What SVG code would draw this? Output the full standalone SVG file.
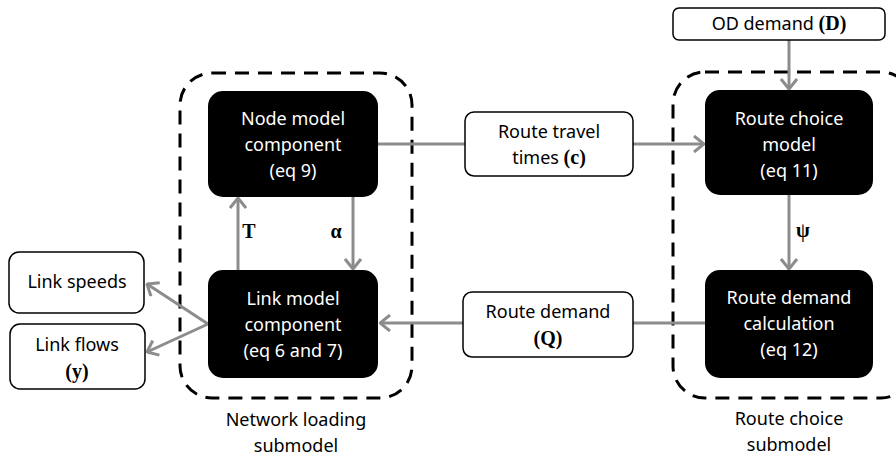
<svg xmlns="http://www.w3.org/2000/svg" width="896" height="458" viewBox="0 0 896 458">
<style>
.blk{fill:#000;stroke:none}
.wht{fill:#fff;stroke:#000;stroke-width:1.5}
.dash{fill:none;stroke:#000;stroke-width:3;stroke-dasharray:14 9}
.con{fill:none;stroke:#8c8c8c;stroke-width:3}
text{font-family:"Noto Sans","DejaVu Sans",sans-serif;font-size:18px;text-anchor:middle}
.w{fill:#fff}
.k{fill:#000}
.m{font-family:"Liberation Serif",serif;font-weight:bold;font-size:20px}
</style>
<defs>
<marker id="arr" viewBox="0 0 12 18" refX="11" refY="9" markerWidth="12" markerHeight="18" markerUnits="userSpaceOnUse" orient="auto">
<path d="M1,1 L11,9 L1,17" fill="none" stroke="#8c8c8c" stroke-width="3"/>
</marker>
</defs>

<g id="network-loading-submodel">
<rect class="dash" x="180" y="73" width="232" height="325" rx="32"/>
<text class="k" x="296" y="426">Network loading</text>
<text class="k" x="296" y="452">submodel</text>
</g>
<g id="route-choice-submodel">
<rect class="dash" x="673" y="72" width="240" height="326" rx="32"/>
<text class="k" x="789" y="425">Route choice</text>
<text class="k" x="789" y="451">submodel</text>
</g>

<g id="connectors">
<line class="con" x1="378" y1="144" x2="465" y2="144"/>
<line class="con" x1="633" y1="144" x2="704" y2="144" marker-end="url(#arr)"/>
<line class="con" x1="705" y1="323" x2="633" y2="323"/>
<line class="con" x1="463" y1="323" x2="380" y2="323" marker-end="url(#arr)"/>
<line class="con" x1="238" y1="270" x2="238" y2="198" marker-end="url(#arr)"/>
<line class="con" x1="353" y1="197" x2="353" y2="269" marker-end="url(#arr)"/>
<line class="con" x1="789" y1="40" x2="789" y2="89" marker-end="url(#arr)"/>
<line class="con" x1="789" y1="195" x2="789" y2="269" marker-end="url(#arr)"/>
<line class="con" x1="208" y1="324" x2="147" y2="284" marker-end="url(#arr)"/>
<line class="con" x1="208" y1="324" x2="147" y2="352" marker-end="url(#arr)"/>
<text class="m k" x="249" y="238">T</text>
<text class="m k" x="336" y="238">α</text>
<text class="m k" x="803" y="237">ψ</text>
</g>

<g id="node-model">
<rect class="blk" x="208" y="91" width="170" height="106" rx="15"/>
<text class="w" x="293" y="125">Node model</text>
<text class="w" x="293" y="151">component</text>
<text class="w" x="293" y="177">(eq 9)</text>
</g>
<g id="link-model">
<rect class="blk" x="208" y="270" width="170" height="108" rx="15"/>
<text class="w" x="293" y="305">Link model</text>
<text class="w" x="293" y="331">component</text>
<text class="w" x="293" y="357">(eq 6 and 7)</text>
</g>
<g id="route-choice-model">
<rect class="blk" x="705" y="90" width="168" height="105" rx="15"/>
<text class="w" x="789" y="125">Route choice</text>
<text class="w" x="789" y="151">model</text>
<text class="w" x="789" y="177">(eq 11)</text>
</g>
<g id="route-demand-calculation">
<rect class="blk" x="705" y="270" width="168" height="108" rx="15"/>
<text class="w" x="789" y="304">Route demand</text>
<text class="w" x="789" y="330">calculation</text>
<text class="w" x="789" y="356">(eq 12)</text>
</g>
<g id="route-travel-times">
<rect class="wht" x="465" y="112" width="168" height="64" rx="9"/>
<text class="k" x="549" y="138">Route travel</text>
<text class="k" x="549" y="164">times <tspan class="m">(c)</tspan></text>
</g>
<g id="route-demand">
<rect class="wht" x="463" y="292" width="170" height="65" rx="9"/>
<text class="k" x="548" y="318">Route demand</text>
<text class="k m" x="548" y="345">(Q)</text>
</g>
<g id="od-demand">
<rect class="wht" x="673" y="8" width="212" height="32" rx="6"/>
<text class="k" x="779" y="30">OD demand <tspan class="m">(D)</tspan></text>
</g>
<g id="link-speeds">
<rect class="wht" x="9" y="252" width="135" height="61" rx="10"/>
<text class="k" x="77" y="288">Link speeds</text>
</g>
<g id="link-flows">
<rect class="wht" x="10" y="324" width="135" height="65" rx="10"/>
<text class="k" x="77" y="351">Link flows</text>
<text class="k m" x="77" y="378">(y)</text>
</g>
</svg>
